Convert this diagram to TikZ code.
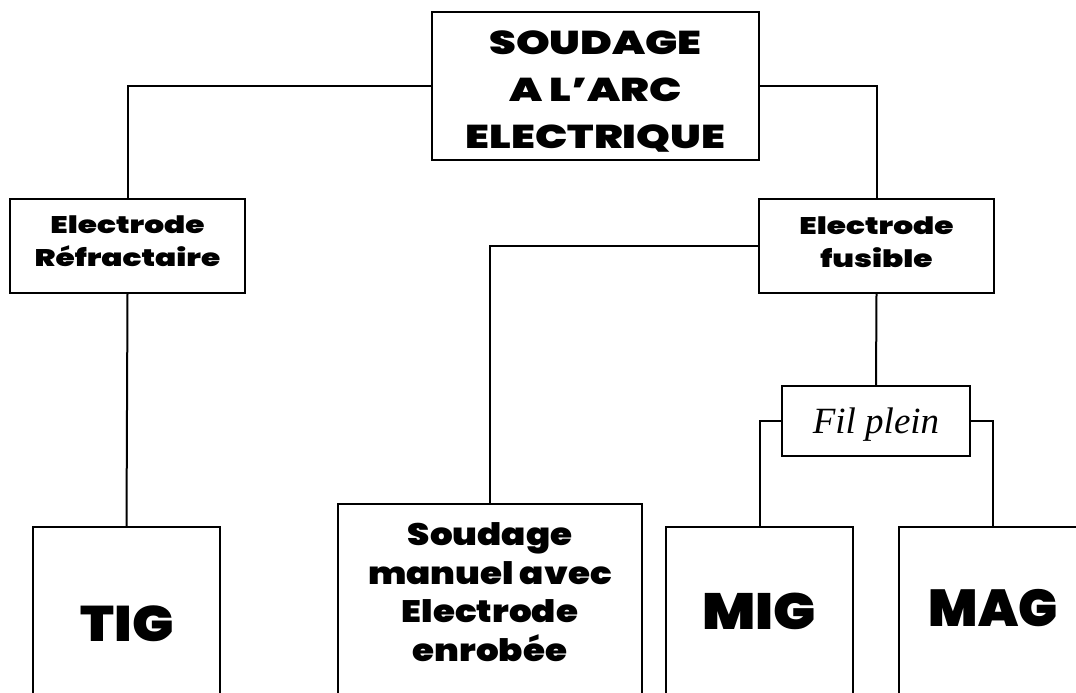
\documentclass[tikz,border=0pt]{standalone}
\usepackage{fontspec}
\newfontfamily\heavy{Poppins Black}[FakeStretch=1.3]
\newfontfamily\heavymid{Poppins Black}[FakeStretch=1.15]
\newfontfamily\heavybig{Poppins Black}[FakeStretch=1.1]
\newfontfamily\heavyplain{Poppins Black}
\newfontfamily\scriptf{Liberation Serif}
\begin{document}
\begin{tikzpicture}[x=1pt,y=-1pt,
  box/.style={draw, line width=2pt, inner sep=0pt},
  conn/.style={line width=2pt},
  txt/.style={align=center, inner sep=0pt}]
\clip (0,0) rectangle (1076,693);
% boxes
\node[box, minimum width=327, minimum height=148] (top) at (595.5,86) {};
\node[box, minimum width=235, minimum height=94] (refr) at (127.5,246) {};
\node[box, minimum width=235, minimum height=94] (fus) at (876.5,246) {};
\node[box, minimum width=188, minimum height=70] (fil) at (876,421) {};
% bottom boxes (run past the lower edge)
\node[box, anchor=north, minimum width=187, minimum height=220] (tig) at (126.5,526) {};
\node[box, anchor=north, minimum width=304, minimum height=240] (soud) at (490,503) {};
\node[box, anchor=north, minimum width=187, minimum height=220] (mig) at (759.5,526) {};
\node[box, anchor=north, minimum width=188, minimum height=220] (mag) at (993,526) {};
% texts
\node[txt, font=\heavy\fontsize{33}{47}\selectfont] (topt) at (595.5,92)
  {SOUDAGE\\A L’ARC\\ELECTRIQUE};
\node[txt, font=\heavy\fontsize{24}{33}\selectfont] (refrt) at (127.5,241.5)
  {Electrode\\Réfractaire};
\node[txt, font=\heavy\fontsize{24}{33}\selectfont] (fust) at (876.5,242)
  {Electrode\\fusible};
\node[txt, font=\scriptf\itshape\fontsize{37}{40}\selectfont] (filt) at (876,425)
  {Fil plein};
\node[txt, font=\heavybig\fontsize{50}{60}\selectfont] (tigt) at (127,624) {TIG};
\node[txt, font=\heavymid\fontsize{31}{38.5}\selectfont] (soudt) at (490,592)
  {Soudage\\manuel avec\\Electrode\\enrobée};
\node[txt, font=\heavybig\fontsize{51}{60}\selectfont] (migt) at (759,611) {MIG};
\node[txt, font=\heavyplain\fontsize{52}{60}\selectfont] (magt) at (993,608) {MAG};
% connectors
\draw[conn] (top.west) -| (refr.north);
\draw[conn] (top.east) -| (fus.north);
\draw[conn] (refr.south) -- (tig.north);
\draw[conn] (fus.west) -| (soud.north);
\draw[conn] (fus.south) -- (fil.north);
\draw[conn] (fil.west) -| (mig.north);
\draw[conn] (fil.east) -| (mag.north);
\end{tikzpicture}
\end{document}
